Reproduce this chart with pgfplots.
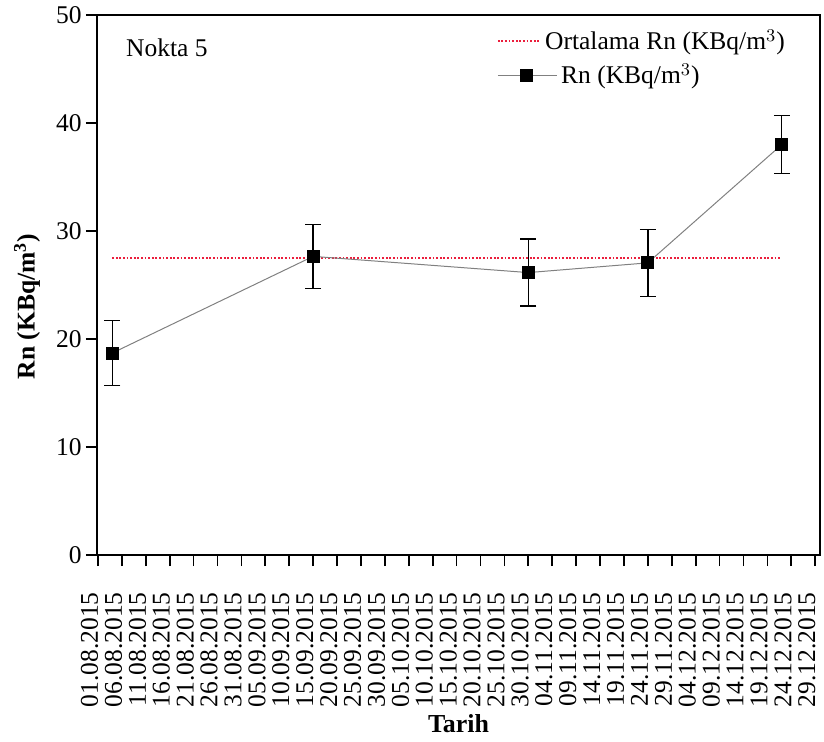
\documentclass[border=0pt]{standalone}
\usepackage{pgfplots}
\pgfplotsset{compat=1.18}
\usepackage{fontspec}
\setmainfont{Liberation Serif}
\definecolor{meanred}{RGB}{235,30,60}
\pgfplotsset{
  meanlegend/.style={legend image code/.code={\draw[##1] (0cm,0cm) -- (0.75cm,0cm);}},
  rnlegend/.style={legend image code/.code={\draw[##1] (0cm,0cm) -- (0.75cm,0cm); \draw[##1,overlay] (0.75cm,0cm) -- (1.04cm,0cm); \draw[##1] plot coordinates {(0.5cm,0cm)};}},
}
\begin{document}
\begin{tikzpicture}
\begin{axis}[
  scale only axis,
  width=361.5bp, height=270bp,
  at={(0,0)}, anchor=south west,
  xmin=-0.2, xmax=151,
  ymin=0, ymax=50,
  axis line style={line width=0.9pt},
  tick style={line width=0.9pt, black},
  major tick length=5.5bp,
  tick align=outside,
  xtick pos=bottom, ytick pos=left,
  xtick={0,5,...,150},
  ytick={0,10,...,50},
  xticklabels={01.08.2015,06.08.2015,11.08.2015,16.08.2015,21.08.2015,26.08.2015,31.08.2015,05.09.2015,10.09.2015,15.09.2015,20.09.2015,25.09.2015,30.09.2015,05.10.2015,10.10.2015,15.10.2015,20.10.2015,25.10.2015,30.10.2015,04.11.2015,09.11.2015,14.11.2015,19.11.2015,24.11.2015,29.11.2015,04.12.2015,09.12.2015,14.12.2015,19.12.2015,24.12.2015,29.12.2015},
  xticklabel shift=13.5bp,
  x tick label style={rotate=90, anchor=base east, font=\fontsize{12.8}{12.8}\selectfont, inner sep=1pt, xshift=1.5bp},
  y tick label style={font=\fontsize{12.8}{12.8}\selectfont, inner sep=1pt},
  yticklabel shift=1bp,
  /pgf/number format/assume math mode=true,
  xlabel={\textbf{Tarih}},
  ylabel={\textbf{Rn (KBq/m$^{\mathbf{3}}$)}},
  every axis x label/.style={at={(rel axis cs:0.5,-0.313)}, anchor=center, font=\fontsize{13}{13}\selectfont},
  every axis y label/.style={at={(rel axis cs:-0.0968,0.46)}, rotate=90, anchor=center, font=\fontsize{12.8}{13}\selectfont},
  legend style={draw=none, fill=none, at={(0.55,0.985)}, anchor=north west,
    font=\fontsize{12.8}{14}\selectfont, row sep=1.5bp, inner sep=1pt},
  legend cell align=left,
]
\addplot[meanred, dash pattern=on 0.9bp off 0.9bp, line width=0.8pt, meanlegend] coordinates {(3,27.52) (143,27.52)};
\addlegendentry{Ortalama Rn (KBq/m$^3$)}
\addplot[gray, line width=0.5pt, mark=square*, mark size=3bp,
  mark options={fill=black, draw=black, solid}, rnlegend,
  error bars/.cd, y dir=both, y explicit,
  error bar style={black, line width=0.7pt},
  error mark options={rotate=90, mark size=4bp, black, line width=0.7pt}]
  coordinates {
  (3,18.7) +- (0,3.0)
  (45,27.65) +- (0,2.95)
  (90,26.15) +- (0,3.1)
  (115,27.05) +- (0,3.1)
  (143,38.0) +- (0,2.7)
  };
\addlegendentry{\hspace{8bp}Rn (KBq/m$^3$)}
\node[anchor=north west, font=\fontsize{12.8}{14}\selectfont, inner sep=1pt] at (rel axis cs:0.037,0.96) {Nokta 5};
\end{axis}
\pgfresetboundingbox
\path[use as bounding box] (-48.5bp,-93.5bp) rectangle (363.5bp,277.5bp);
\end{tikzpicture}
\end{document}
